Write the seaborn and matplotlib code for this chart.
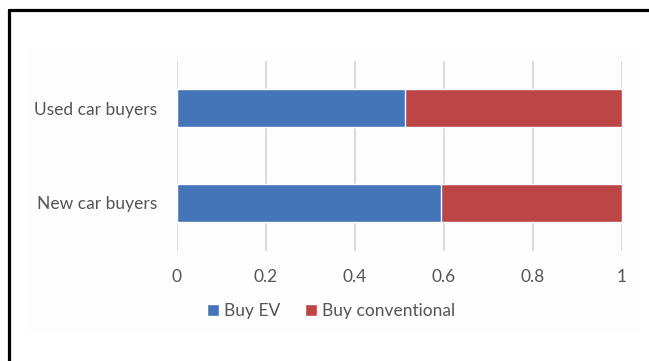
import matplotlib
matplotlib.use("Agg")
import matplotlib.pyplot as plt
import seaborn as sns
import pandas as pd
from matplotlib.patches import Patch, Rectangle
from matplotlib.lines import Line2D

# data
categories = ["Used car buyers", "New car buyers"]
buy_ev = [0.512, 0.593]
buy_conventional = [0.488, 0.407]
xticks = [0, 0.2, 0.4, 0.6, 0.8, 1.0]
xtick_labels = ["0", "0.2", "0.4", "0.6", "0.8", "1"]

blue = "#4674b9"
red = "#bc4545"
text_grey = "#555555"

df = pd.DataFrame({"group": categories, "ev": buy_ev, "conv": buy_conventional})
df["total"] = df["ev"] + df["conv"]

sns.set_style("white")
plt.rcParams["font.family"] = ["Lato", "DejaVu Sans"]

fig = plt.figure(figsize=(6.49, 3.61), dpi=100)
W, H = 649, 361

# faint chart panel and the cropped frame lines
fig.patches.append(Rectangle((28 / W, 1 - 332 / H), (642 - 28) / W, (332 - 50) / H,
                             transform=fig.transFigure, facecolor="#fdfdfd",
                             edgecolor="none", zorder=-1))
fig.lines.append(Line2D([8.5 / W, 1], [1 - 10 / H, 1 - 10 / H], transform=fig.transFigure,
                        color="black", lw=2.3))
fig.lines.append(Line2D([8.5 / W, 8.5 / W], [0, 1 - 10 / H], transform=fig.transFigure,
                        color="black", lw=2.3))

ax = fig.add_axes([177 / W, 1 - 250.5 / H, (622 - 177) / W, (250.5 - 60.5) / H])
ax.set_facecolor("none")

# stacked bars: total first (red), then EV share on top (blue)
sns.barplot(data=df, x="total", y="group", color=red, width=0.4, saturation=1, ax=ax)
sns.barplot(data=df, x="ev", y="group", color=blue, width=0.4, saturation=1, ax=ax)

ax.set_xlim(0, 1)
ax.set_ylim(1.5, -0.5)
ax.set_xticks(xticks)
ax.set_xticklabels(xtick_labels)
ax.xaxis.grid(True, color="#d9d9d9", lw=1.3)
ax.set_axisbelow(True)
ax.set_xlabel("")
ax.set_ylabel("")
for s in ax.spines.values():
    s.set_visible(False)
ax.tick_params(axis="x", length=0, pad=13, labelsize=12.5, labelcolor=text_grey)
ax.tick_params(axis="y", length=0, pad=14, labelsize=12.5, labelcolor=text_grey)

handles = [Patch(facecolor=blue, label="Buy EV"),
           Patch(facecolor=red, label="Buy conventional")]
fig.legend(handles=handles, loc="center", bbox_to_anchor=(331 / W, 1 - 311 / H), ncol=2,
           frameon=False, fontsize=12.5, labelcolor=text_grey, handlelength=0.7,
           handleheight=0.7, handletextpad=0.3, columnspacing=1.4)

plt.savefig("out.png", dpi=100)
